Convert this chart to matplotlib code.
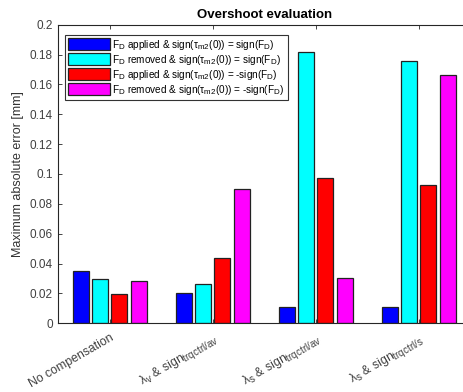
import numpy as np
import matplotlib
matplotlib.use('Agg')
import matplotlib.pyplot as plt
import matplotlib._mathtext as mt

plt.rcParams['font.family'] = ['Liberation Sans', 'DejaVu Sans']
plt.rcParams['mathtext.fontset'] = 'custom'
plt.rcParams['mathtext.rm'] = 'Liberation Sans'
plt.rcParams['mathtext.it'] = 'Liberation Sans'
plt.rcParams['mathtext.bf'] = 'Liberation Sans:bold'
# MATLAB tex subscripts are a bit larger than matplotlib's default
mt.SHRINK_FACTOR = 0.8

# data
groups = ['No compensation',
          r'$\lambda_{\mathrm{v}}$ & sign$_{\mathrm{trqctrl/av}}$',
          r'$\lambda_{\mathrm{s}}$ & sign$_{\mathrm{trqctrl/av}}$',
          r'$\lambda_{\mathrm{s}}$ & sign$_{\mathrm{trqctrl/s}}$']
applied_same = [0.0347, 0.0205, 0.011, 0.011]
removed_same = [0.0295, 0.026, 0.1815, 0.176]
applied_opp = [0.0195, 0.0435, 0.0975, 0.0925]
removed_opp = [0.0285, 0.090, 0.0305, 0.166]
series_labels = [
    r'F$_{\mathrm{D}}$ applied & sign($\mathrm{\tau}_{\mathrm{m2}}$(0)) = sign(F$_{\mathrm{D}}$)',
    r'F$_{\mathrm{D}}$ removed & sign($\mathrm{\tau}_{\mathrm{m2}}$(0)) = sign(F$_{\mathrm{D}}$)',
    r'F$_{\mathrm{D}}$ applied & sign($\mathrm{\tau}_{\mathrm{m2}}$(0)) = -sign(F$_{\mathrm{D}}$)',
    r'F$_{\mathrm{D}}$ removed & sign($\mathrm{\tau}_{\mathrm{m2}}$(0)) = -sign(F$_{\mathrm{D}}$)',
]
colors = ['#0000ff', '#00ffff', '#ff0000', '#ff00ff']

fig = plt.figure(figsize=(4.63, 3.92), dpi=100)
ax = fig.add_axes([0.1259, 0.1753, 0.890, 0.7617])

x = np.arange(1, len(groups) + 1)
pitch = 0.186
width = 0.155
all_series = [applied_same, removed_same, applied_opp, removed_opp]
for i, (vals, col, lab) in enumerate(zip(all_series, colors, series_labels)):
    ax.bar(x + (i - 1.5) * pitch, vals, width, color=col, edgecolor='#222222',
           linewidth=0.9, label=lab)

gray = '#262626'
ax.set_xlim(0.5, 4.5)
ax.set_ylim(0, 0.2)
ax.set_yticks(np.arange(0, 0.201, 0.02))
ax.set_yticklabels(['0', '0.02', '0.04', '0.06', '0.08', '0.1', '0.12',
                    '0.14', '0.16', '0.18', '0.2'])
ax.set_xticks(x)
ax.set_xticklabels(groups, rotation=30, ha='right', rotation_mode='anchor')
ax.tick_params(direction='in', length=3, width=0.6, colors=gray,
               labelsize=8.5, top=True, right=True, pad=4)
ax.tick_params(axis='x', labelsize=8.8, pad=6)
for lbl in ax.get_yticklabels() + ax.get_xticklabels():
    lbl.set_color('#404040')
for s in ax.spines.values():
    s.set_color(gray)
    s.set_linewidth(0.8)

ax.set_ylabel('Maximum absolute error [mm]', fontsize=9, color='#333333')
ax.set_title('Overshoot evaluation', fontsize=9.5, fontweight='bold',
             color='black', pad=5)

leg = ax.legend(loc='upper left', bbox_to_anchor=(0.016, 0.967), fontsize=7.2,
                handlelength=4.2, handleheight=1.45, borderpad=0.3,
                labelspacing=0.1, handletextpad=0.25, fancybox=False,
                framealpha=1, edgecolor='#333333', borderaxespad=0)
leg.get_frame().set_linewidth(0.8)

fig.savefig('out.png', dpi=100)
